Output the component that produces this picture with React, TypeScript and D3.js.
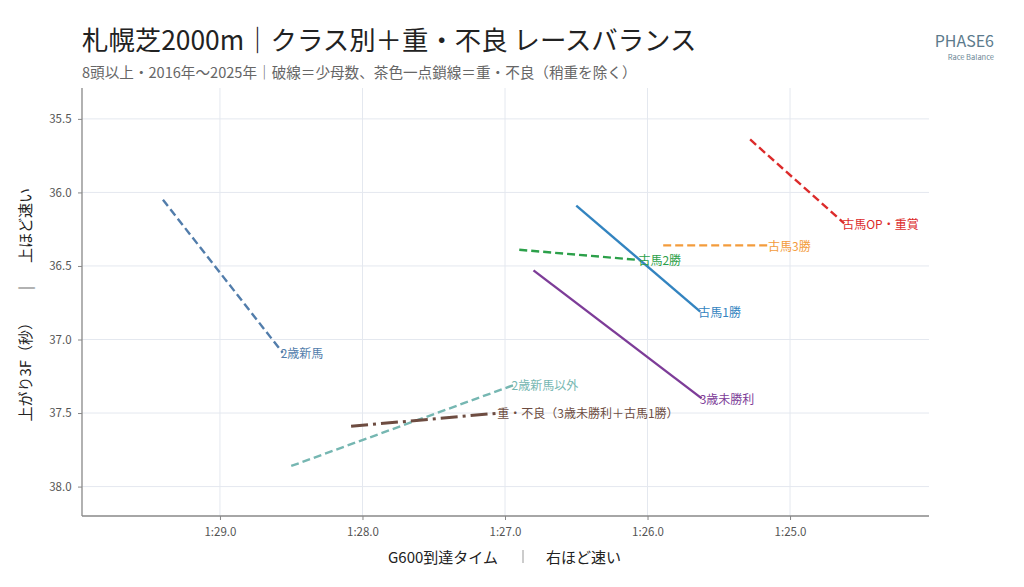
import { useEffect, useRef } from "react";
import * as d3 from "d3";

// series (class) names and their line end points
const series = [
  "2歳新馬",
  "2歳新馬以外",
  "重・不良（3歳未勝利＋古馬1勝）",
  "古馬2勝",
  "古馬1勝",
  "3歳未勝利",
  "古馬3勝",
  "古馬OP・重賞",
];
const g600From = [89.4, 88.5, 88.08, 86.9, 86.5, 86.8, 85.89, 85.28];
const g600To = [88.56, 86.94, 87.04, 86.05, 85.63, 85.62, 85.14, 84.62];
const f3From = [36.05, 37.86, 37.59, 36.39, 36.09, 36.53, 36.36, 35.64];
const f3To = [37.09, 37.31, 37.5, 36.46, 36.81, 37.4, 36.36, 36.21];
const lineKind = ["dash", "dash", "dashdot", "dash", "solid", "solid", "dash", "dash"];
const colors = ["#527dab", "#76b7b2", "#6d4c41", "#2ca04a", "#3384c0", "#7d3c98", "#f39c3c", "#dc2b2b"];

const xTicks = [89, 88, 87, 86, 85];
const yTicks = [35.5, 36.0, 36.5, 37.0, 37.5, 38.0];

const W = 1024;
const H = 587;
const FONT = "'Noto Sans CJK JP', 'Noto Sans', sans-serif";

function fmtTime(v: number) {
  const m = Math.floor(v / 60);
  const s = v - m * 60;
  return `${m}:${s.toFixed(1).padStart(4, "0")}`;
}

export default function App() {
  const ref = useRef<SVGSVGElement>(null);

  useEffect(() => {
    if (!ref.current) return;
    const svg = d3.select(ref.current);
    svg.selectAll("*").remove();

    const left = 82, right = 929, top = 88, bottom = 516;
    const x = d3.scaleLinear().domain([89.968, 84.025]).range([left, right]);
    const y = d3.scaleLinear().domain([35.29, 38.2]).range([top, bottom]);

    svg.append("rect").attr("width", W).attr("height", H).attr("fill", "#fff");

    // grid
    const grid = svg.append("g").attr("stroke", "#e4e8ef").attr("stroke-width", 1);
    grid.selectAll("line.h").data(yTicks).join("line")
      .attr("x1", left).attr("x2", right)
      .attr("y1", (d) => y(d)).attr("y2", (d) => y(d));
    grid.selectAll("line.v").data(xTicks).join("line")
      .attr("y1", top).attr("y2", bottom)
      .attr("x1", (d) => x(d)).attr("x2", (d) => x(d));

    // axes
    const xAxis = d3.axisBottom(x).tickValues(xTicks).tickFormat((d) => fmtTime(+d)).tickSize(4).tickSizeOuter(0);
    const yAxis = d3.axisLeft(y).tickValues(yTicks).tickFormat(d3.format(".1f")).tickSize(4).tickSizeOuter(0);

    const gx = svg.append("g").attr("transform", `translate(0,${bottom})`).call(xAxis);
    const gy = svg.append("g").attr("transform", `translate(${left},0)`).call(yAxis);
    [gx, gy].forEach((g) => {
      g.select(".domain").attr("stroke", "#888").attr("stroke-width", 1.3);
      g.selectAll(".tick line").attr("stroke", "#888");
      g.selectAll(".tick text").attr("fill", "#555").style("font-family", FONT).style("font-size", "11.5px");
    });
    gx.select(".domain").attr("d", `M${left},0H${right}`);
    gy.select(".domain").attr("d", `M0,${top}V${bottom}`);
    gx.selectAll(".tick text").attr("dy", "1.1em");
    gy.selectAll(".tick text").attr("dx", "-0.3em");

    // series lines
    const dashFor = (k: string) => (k === "dash" ? "8,4" : k === "dashdot" ? "17,5,3,5" : null);
    const idx = d3.range(series.length);
    const lines = svg.append("g");
    lines.selectAll("line").data(idx).join("line")
      .attr("x1", (i) => x(g600From[i])).attr("y1", (i) => y(f3From[i]))
      .attr("x2", (i) => x(g600To[i])).attr("y2", (i) => y(f3To[i]))
      .attr("stroke", (i) => colors[i])
      .attr("stroke-width", (i) => (lineKind[i] === "dashdot" ? 3 : 2.4))
      .attr("stroke-dasharray", (i) => dashFor(lineKind[i]));

    lines.selectAll("text").data(idx).join("text")
      .attr("x", (i) => x(g600To[i]) - 2)
      .attr("y", (i) => y(f3To[i]) + 2)
      .attr("dominant-baseline", "middle")
      .attr("fill", (i) => colors[i])
      .style("font-family", FONT)
      .style("font-size", "12px")
      .text((i) => series[i]);

    // titles
    svg.append("text").attr("x", 82).attr("y", 50)
      .attr("fill", "#222").style("font-family", FONT).style("font-size", "26.4px")
      .text("札幌芝2000m｜クラス別＋重・不良 レースバランス");
    svg.append("text").attr("x", 82).attr("y", 78)
      .attr("fill", "#666").style("font-family", FONT).style("font-size", "14.6px")
      .text("8頭以上・2016年〜2025年｜破線＝少母数、茶色一点鎖線＝重・不良（稍重を除く）");

    svg.append("text").attr("x", 994).attr("y", 47).attr("text-anchor", "end")
      .attr("fill", "#5b7a8c").style("font-family", FONT).style("font-size", "16px")
      .text("PHASE6");
    svg.append("text").attr("x", 994).attr("y", 60).attr("text-anchor", "end")
      .attr("fill", "#6c8796").style("font-family", FONT).style("font-size", "7.5px")
      .text("Race Balance");

    // axis labels
    const xl = svg.append("g").attr("transform", "translate(523,563)")
      .attr("fill", "#222").style("font-family", FONT).style("font-size", "15px");
    xl.append("text").attr("x", -25).attr("text-anchor", "end").text("G600到達タイム");
    xl.append("text").attr("x", 23).attr("text-anchor", "start").text("右ほど速い");
    svg.append("line").attr("x1", 523).attr("x2", 523).attr("y1", 550).attr("y2", 563)
      .attr("stroke", "#999").attr("stroke-width", 1);

    const yl = svg.append("g").attr("transform", "translate(31,288) rotate(-90)")
      .attr("fill", "#222").style("font-family", FONT).style("font-size", "15px");
    yl.append("text").attr("x", -27).attr("text-anchor", "end").text("上がり3F（秒）");
    yl.append("text").attr("x", 0).attr("text-anchor", "middle").attr("fill", "#777").text("|");
    yl.append("text").attr("x", 25).attr("text-anchor", "start").text("上ほど速い");
  }, []);

  return (
    <svg
      ref={ref}
      width={W}
      height={H}
      style={{ position: "absolute", left: 0, top: 0, display: "block", opacity: 0.999 }}
    />
  );
}
